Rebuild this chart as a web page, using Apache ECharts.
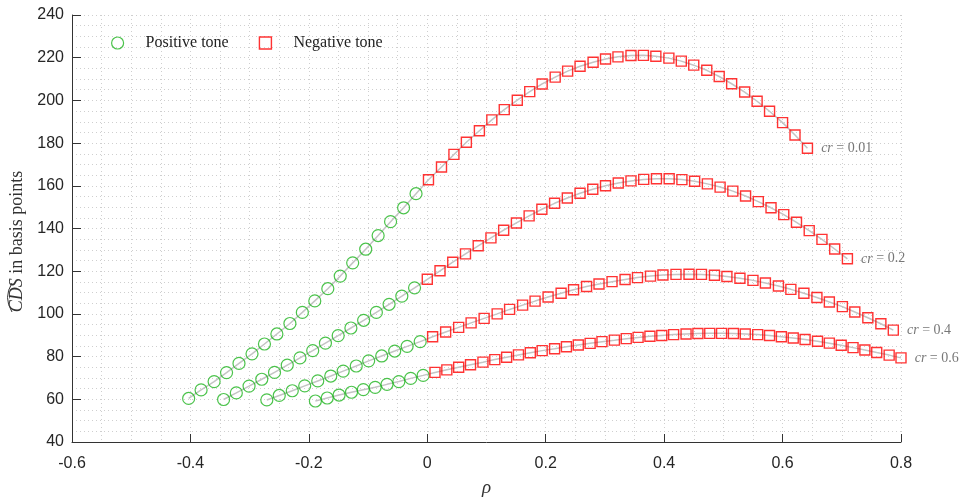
<!DOCTYPE html>
<html>
<head>
<meta charset="utf-8">
<script src="https://cdn.jsdelivr.net/npm/echarts@6/dist/echarts.min.js"></script>
<style>
  html, body { margin: 0; padding: 0; background: #fff; }
  #chart { width: 960px; height: 502px; }
</style>
</head>
<body>
<div id="chart"></div>
<script>
// 数据：每条曲线 50 个点（rho, CDS）
const crLabels = ['0.01', '0.2', '0.4', '0.6'];

const rhoCr001 = [-0.403, -0.382, -0.360, -0.339, -0.318, -0.296, -0.275, -0.254, -0.232, -0.211,
  -0.190, -0.168, -0.147, -0.126, -0.104, -0.083, -0.062, -0.040, -0.019, 0.002,
  0.024, 0.045, 0.066, 0.088, 0.109, 0.130, 0.152, 0.173, 0.194, 0.216,
  0.237, 0.258, 0.280, 0.301, 0.322, 0.344, 0.365, 0.386, 0.408, 0.429,
  0.450, 0.472, 0.493, 0.514, 0.536, 0.557, 0.578, 0.600, 0.621, 0.642];
const cdsCr001 = [60.4, 64.4, 68.3, 72.5, 76.8, 81.3, 85.9, 90.6, 95.5, 100.7,
  106.1, 111.8, 117.7, 123.9, 130.3, 136.7, 143.2, 149.7, 156.3, 162.8,
  168.8, 174.7, 180.4, 185.8, 190.9, 195.7, 200.1, 204.1, 207.7, 210.9,
  213.7, 216.0, 217.9, 219.4, 220.4, 221.0, 221.1, 220.7, 219.8, 218.4,
  216.5, 214.1, 211.2, 207.8, 203.9, 199.6, 194.9, 189.6, 183.8, 177.6];

const rhoCr02 = [-0.344, -0.3225, -0.301, -0.2795, -0.258, -0.2365, -0.215, -0.1935, -0.172, -0.1505,
  -0.129, -0.1075, -0.086, -0.0645, -0.043, -0.0215, 0.000, 0.0215, 0.043, 0.0645,
  0.086, 0.1075, 0.129, 0.1505, 0.172, 0.1935, 0.215, 0.2365, 0.258, 0.2795,
  0.301, 0.3225, 0.344, 0.3655, 0.387, 0.4085, 0.430, 0.4515, 0.473, 0.4945,
  0.516, 0.5375, 0.559, 0.5805, 0.602, 0.6235, 0.645, 0.6665, 0.688, 0.7095];
const cdsCr02 = [59.9, 63.0, 66.2, 69.4, 72.6, 76.0, 79.4, 82.8, 86.3, 89.8,
  93.4, 97.0, 100.7, 104.5, 108.3, 112.2, 116.2, 120.2, 124.2, 128.1,
  131.9, 135.6, 139.2, 142.6, 145.9, 149.0, 151.8, 154.3, 156.5, 158.4,
  160.0, 161.3, 162.3, 163.0, 163.3, 163.3, 162.9, 162.1, 160.9, 159.4,
  157.5, 155.2, 152.6, 149.7, 146.5, 142.9, 139.0, 134.9, 130.4, 125.8];

const rhoCr04 = [-0.271, -0.250, -0.228, -0.207, -0.185, -0.163, -0.142, -0.120, -0.099, -0.077,
  -0.055, -0.034, -0.012, 0.009, 0.031, 0.053, 0.074, 0.096, 0.118, 0.139,
  0.161, 0.182, 0.204, 0.226, 0.247, 0.269, 0.290, 0.312, 0.334, 0.355,
  0.377, 0.398, 0.420, 0.442, 0.463, 0.485, 0.506, 0.528, 0.550, 0.571,
  0.593, 0.614, 0.636, 0.658, 0.679, 0.701, 0.722, 0.744, 0.766, 0.787];
const cdsCr04 = [59.7, 61.8, 64.0, 66.3, 68.6, 70.9, 73.2, 75.6, 78.0, 80.3,
  82.6, 84.8, 87.0, 89.3, 91.5, 93.7, 95.8, 97.9, 100.0, 102.1,
  104.1, 106.0, 107.9, 109.7, 111.3, 112.8, 114.0, 115.1, 116.1, 117.0,
  117.7, 118.2, 118.5, 118.6, 118.5, 118.1, 117.5, 116.7, 115.7, 114.5,
  113.1, 111.5, 109.7, 107.7, 105.6, 103.4, 100.9, 98.2, 95.4, 92.4];

const rhoCr06 = [-0.189, -0.169, -0.149, -0.128, -0.108, -0.088, -0.068, -0.048, -0.028, -0.007,
  0.013, 0.033, 0.053, 0.073, 0.094, 0.114, 0.134, 0.154, 0.174, 0.194,
  0.215, 0.235, 0.255, 0.275, 0.295, 0.316, 0.336, 0.356, 0.376, 0.396,
  0.416, 0.437, 0.457, 0.477, 0.497, 0.517, 0.537, 0.558, 0.578, 0.598,
  0.618, 0.638, 0.659, 0.679, 0.699, 0.719, 0.739, 0.759, 0.780, 0.800];
const cdsCr06 = [59.2, 60.6, 62.0, 63.3, 64.5, 65.6, 67.0, 68.3, 69.8, 71.2,
  72.6, 73.8, 75.0, 76.2, 77.4, 78.6, 79.7, 80.8, 81.8, 82.8,
  83.7, 84.6, 85.4, 86.2, 87.0, 87.7, 88.4, 89.0, 89.5, 89.9,
  90.3, 90.6, 90.8, 90.9, 90.9, 90.8, 90.6, 90.3, 89.9, 89.3,
  88.7, 88.0, 87.2, 86.3, 85.3, 84.2, 83.1, 81.9, 80.7, 79.4];

const curves = [
  { rho: rhoCr001, cds: cdsCr001 },
  { rho: rhoCr02, cds: cdsCr02 },
  { rho: rhoCr04, cds: cdsCr04 },
  { rho: rhoCr06, cds: cdsCr06 }
];

const green = '#1eb41e';
const red = '#ff0000';
const serif = '"Liberation Serif", "DejaVu Serif", serif';
const sans = '"Liberation Sans", Arial, sans-serif';

// rho<0 为绿色圆圈，其余为红色方块
const greenPts = [];
const redPts = [];
const lineSeries = [];
curves.forEach((c, k) => {
  const pts = c.rho.map((r, i) => [r, c.cds[i]]);
  lineSeries.push({
    type: 'line',
    data: pts,
    showSymbol: false,
    silent: true,
    z: 1,
    lineStyle: { color: '#c4c4c4', width: 1.5 }
  });
  pts.forEach((p, i) => {
    if (p[0] < 0) {
      greenPts.push(p);
    } else if (i === pts.length - 1) {
      redPts.push({
        value: p,
        label: { show: true, formatter: '{i|cr} = ' + crLabels[k] }
      });
    } else {
      redPts.push(p);
    }
  });
});

const gridLine = { show: true, lineStyle: { color: '#cfcfcf', width: 1, type: [1, 3] } };

const option = {
  animation: false,
  grid: { left: 72, right: 59, top: 15, bottom: 51 },
  legend: {
    left: 106,
    top: 30,
    itemWidth: 12,
    itemHeight: 12,
    itemGap: 30,
    textStyle: { fontFamily: serif, fontSize: 16, color: '#222', padding: [0, 0, 0, 17] },
    data: [
      { name: 'Positive tone', icon: 'circle', itemStyle: { color: 'transparent', borderColor: green, borderWidth: 1.2 } },
      { name: 'Negative tone', icon: 'rect', itemStyle: { color: 'transparent', borderColor: red, borderWidth: 1.4 } }
    ]
  },
  xAxis: {
    type: 'value',
    min: -0.6,
    max: 0.8,
    interval: 0.2,
    name: 'ρ',
    nameLocation: 'middle',
    nameGap: 36,
    nameTextStyle: { fontFamily: serif, fontStyle: 'italic', fontSize: 19, color: '#333' },
    axisLine: { show: true, onZero: false, lineStyle: { color: '#333', width: 1 } },
    axisTick: { show: true, inside: true, length: 8, lineStyle: { color: '#333' } },
    minorTick: { show: false, splitNumber: 4 },
    axisLabel: { fontFamily: sans, fontSize: 16, color: '#262626', margin: 14 },
    splitLine: gridLine,
    minorSplitLine: gridLine
  },
  yAxis: {
    type: 'value',
    min: 40,
    max: 240,
    interval: 20,
    name: '{it|CDS} in basis points',
    nameLocation: 'middle',
    nameGap: 32,
    nameTextStyle: {
      fontFamily: serif, fontSize: 18, color: '#333',
      padding: [0, 26, 0, 0],
      rich: { it: { fontFamily: serif, fontSize: 18, fontStyle: 'italic', color: '#333' } }
    },
    axisLine: { show: true, onZero: false, lineStyle: { color: '#333', width: 1 } },
    axisTick: { show: true, inside: true, length: 9, lineStyle: { color: '#333' } },
    minorTick: { show: false, splitNumber: 4 },
    axisLabel: { fontFamily: sans, fontSize: 16, color: '#262626', margin: 8 },
    splitLine: gridLine,
    minorSplitLine: gridLine
  },
  graphic: [
    {
      // CDS 上方的宽帽符号
      type: 'bezierCurve',
      shape: { x1: 12, y1: 312, x2: 12, y2: 283, cpx1: 3, cpy1: 297.5 },
      style: { stroke: '#333', lineWidth: 1, fill: null }
    }
  ],
  series: lineSeries.concat([
    {
      name: 'Positive tone',
      type: 'scatter',
      data: greenPts,
      symbol: 'circle',
      symbolSize: 12,
      z: 3,
      itemStyle: { color: 'transparent', borderColor: green, borderWidth: 1.2 }
    },
    {
      name: 'Negative tone',
      type: 'scatter',
      data: redPts,
      symbol: 'rect',
      symbolSize: 10,
      z: 3,
      itemStyle: { color: 'transparent', borderColor: red, borderWidth: 1.4 },
      label: {
        position: 'right',
        distance: 8,
        fontFamily: serif,
        fontSize: 14,
        color: '#555',
        rich: { i: { fontFamily: serif, fontSize: 14, fontStyle: 'italic', color: '#555' } }
      }
    }
  ])
};

const chart = echarts.init(document.getElementById('chart'));
chart.setOption(option);
</script>
</body>
</html>
